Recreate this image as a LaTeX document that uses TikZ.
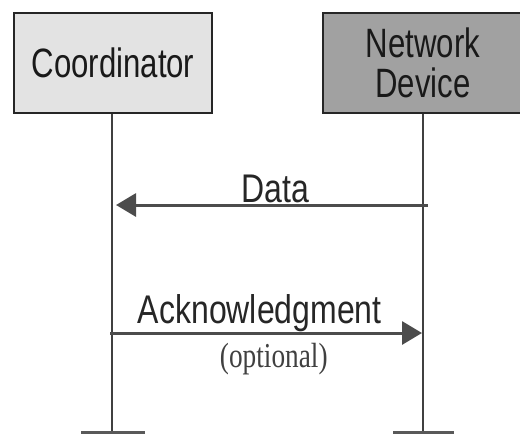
\documentclass[tikz,border=0pt]{standalone}
\usepackage{fontspec}
\usetikzlibrary{arrows.meta,positioning}
\newfontfamily\boxfont[FakeStretch=0.76]{Liberation Sans}
\newfontfamily\msgfont[FakeStretch=0.8]{Liberation Sans}
\newfontfamily\notefont[FakeStretch=0.78]{Liberation Serif}

\begin{document}
\begin{tikzpicture}[
    x=1pt, y=-1pt,
    entity/.style={draw=black!85, line width=1.6pt, minimum width=198pt, minimum height=100pt,
        align=center, inner sep=0pt, font=\boxfont\fontsize{41}{42}\selectfont, text=black!90},
    lifeline/.style={draw=black!75, line width=1.5pt},
    endtick/.style={draw=black!65, line width=3pt},
    message/.style={draw=black!70, line width=3pt, -{Triangle[length=20pt, width=23pt]}},
    msglabel/.style={anchor=base, inner sep=0pt, font=\msgfont\fontsize{40}{42}\selectfont, text=black!85},
    notelabel/.style={anchor=base, inner sep=0pt, font=\notefont\fontsize{35}{36}\selectfont, text=black!75}
]
\useasboundingbox (0,0) rectangle (520,434);

% Participants
\node[entity, fill=black!11] (coord) at (113,63) {Coordinator};
\node[entity, fill=black!37, minimum width=200pt] (netdev) at (423,63) {Network\\[-2pt]Device};

% Lifelines
\coordinate (coordend) at (112,432);
\coordinate (netend) at (423,432);
\draw[lifeline] (coord.south -| coordend) -- (coordend);
\draw[lifeline] (netdev.south -| netend) -- (netend);
\draw[endtick] ([xshift=-31pt]coordend) -- ([xshift=33pt]coordend);
\draw[endtick] ([xshift=-30pt]netend) -- ([xshift=31pt]netend);

% Messages
\coordinate (datafrom) at (netend |- 0,205);
\coordinate (datato) at (coordend |- 0,205);
\coordinate (ackfrom) at (coordend |- 0,333);
\coordinate (ackto) at (netend |- 0,333);
\draw[message] ([xshift=5pt]datafrom) -- ([xshift=4pt]datato)
    node[msglabel, pos=0.49, yshift=3pt] (datalbl) {Data};
\draw[message] ([xshift=-2pt]ackfrom) -- ([xshift=-1pt]ackto)
    node[msglabel, pos=0.48, yshift=10pt] (acklbl) {Acknowledgment}
    node[notelabel, pos=0.525, yshift=-34pt] (optlbl) {(optional)};
\end{tikzpicture}
\end{document}
